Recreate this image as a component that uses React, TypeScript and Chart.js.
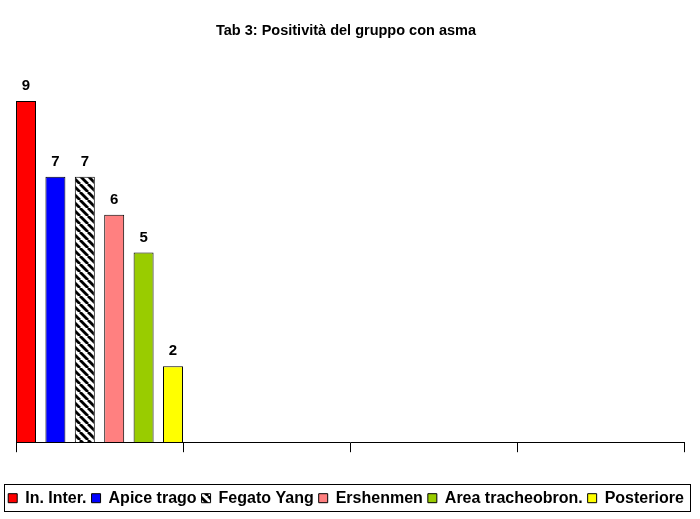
import React, { useEffect, useRef } from "react";
import { Chart, registerables } from "chart.js";

Chart.register(...registerables);

const TITLE = "Tab 3: Positività del gruppo con asma";
const CATEGORIES = ["", "", "", ""];
const SERIES_NAMES = [
  "In. Inter.",
  "Apice trago",
  "Fegato Yang",
  "Ershenmen",
  "Area tracheobron.",
  "Posteriore",
];
const SERIES_VALUES = [9, 7, 7, 6, 5, 2];
const SERIES_COLORS = ["#FF0000", "#0000FF", "hatch", "#FF8080", "#99CC00", "#FFFF00"];
const Y_MAX = 10;

const FONT = "'Liberation Sans', Arial, sans-serif";

function makeHatch(): CanvasPattern | string {
  const c = document.createElement("canvas");
  c.width = 8;
  c.height = 8;
  const g = c.getContext("2d");
  if (!g) return "#888";
  g.fillStyle = "#fff";
  g.fillRect(0, 0, 8, 8);
  g.strokeStyle = "#000";
  g.lineWidth = 2.8;
  for (const o of [-8, 0, 8]) {
    g.beginPath();
    g.moveTo(o, 0);
    g.lineTo(o + 8, 8);
    g.stroke();
  }
  const p = g.createPattern(c, "repeat");
  return p || "#888";
}

const valueLabels = {
  id: "valueLabels",
  afterDatasetsDraw(chart: any) {
    const ctx = chart.ctx;
    ctx.save();
    ctx.fillStyle = "#000";
    ctx.font = `bold 15px ${FONT}`;
    ctx.textAlign = "center";
    ctx.textBaseline = "alphabetic";
    chart.data.datasets.forEach((ds: any, i: number) => {
      const meta = chart.getDatasetMeta(i);
      meta.data.forEach((el: any, j: number) => {
        const v = ds.data[j];
        if (v == null) return;
        ctx.fillText(String(v), el.x, el.y - 11);
      });
    });
    ctx.restore();
  },
};

const legendBorder = {
  id: "legendBorder",
  afterDraw(chart: any) {
    const lg = chart.legend;
    if (!lg || !lg.legendHitBoxes || !lg.legendHitBoxes.length) return;
    const boxes = lg.legendHitBoxes;
    let l = Infinity, r = -Infinity, t = Infinity, b = -Infinity;
    boxes.forEach((h: any) => {
      l = Math.min(l, h.left);
      r = Math.max(r, h.left + h.width);
      t = Math.min(t, h.top);
      b = Math.max(b, h.top + h.height);
    });
    const cy = (t + b) / 2;
    const ctx = chart.ctx;
    ctx.save();
    ctx.strokeStyle = "#000";
    ctx.lineWidth = 1;
    ctx.strokeRect(Math.round(l - 4) + 0.5, Math.round(cy - 14) + 0.5, Math.round(r - l + 10), 27);
    ctx.restore();
  },
};

export default function App() {
  const ref = useRef<HTMLCanvasElement | null>(null);

  useEffect(() => {
    if (!ref.current) return;
    const hatch = makeHatch();
    const datasets = SERIES_NAMES.map((name, i) => {
      const data = CATEGORIES.map((_, j) => (j === 0 ? SERIES_VALUES[i] : null));
      const bg = SERIES_COLORS[i] === "hatch" ? hatch : SERIES_COLORS[i];
      return {
        label: name,
        data,
        backgroundColor: bg as any,
        borderColor: "#000",
        borderWidth: 1,
        categoryPercentage: 1.056,
        barPercentage: 0.68,
      };
    });

    const chart = new Chart(ref.current, {
      type: "bar",
      data: { labels: CATEGORIES, datasets },
      options: {
        animation: false,
        responsive: false,
        layout: { padding: { left: 0, right: 8, top: 0, bottom: 2.8 } },
        plugins: {
          title: {
            display: true,
            text: TITLE,
            color: "#000",
            font: { family: FONT, size: 14.5, weight: "bold" },
            padding: { top: 22, bottom: 23.6 },
          },
          legend: {
            display: true,
            position: "bottom",
            labels: {
              color: "#000",
              font: { family: FONT, size: 16, weight: "bold" },
              boxWidth: 9,
              boxHeight: 9,
              padding: 5,
            },
          },
          tooltip: { enabled: false },
        },
        scales: {
          x: {
            offset: true,
            grid: {
              offset: true,
              drawOnChartArea: false,
              drawTicks: true,
              tickLength: 10,
              color: "#000",
              lineWidth: 1,
            },
            border: { display: true, color: "#000", width: 1 },
            ticks: { display: false },
            afterFit: (s: any) => {
              s.height = 43;
            },
          },
          y: {
            min: 0,
            max: Y_MAX,
            grid: { display: false },
            border: { display: false },
            ticks: { display: false },
            afterFit: (s: any) => {
              s.width = 16;
            },
          },
          yR: {
            type: "linear",
            position: "right",
            grid: { display: false },
            border: { display: false },
            ticks: { display: false },
            afterFit: (s: any) => {
              s.width = 8;
            },
          },
        },
      } as any,
      plugins: [valueLabels, legendBorder],
    });
    return () => chart.destroy();
  }, []);

  return (
    <div style={{ position: "absolute", left: 0, top: 0, width: 700, height: 519, background: "#fff" }}>
      <canvas ref={ref} width={700} height={519} style={{ display: "block", width: 700, height: 519 }} />
    </div>
  );
}
